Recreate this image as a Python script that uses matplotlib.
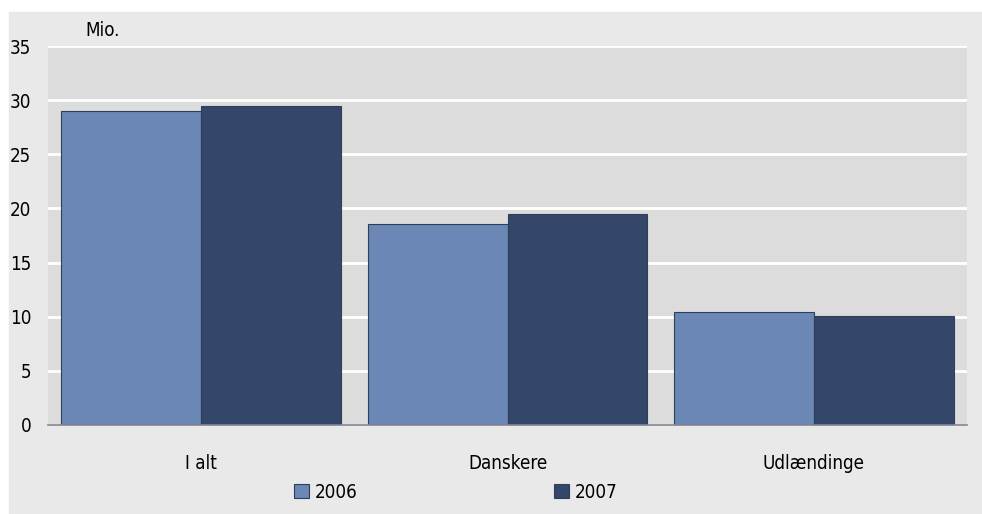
import matplotlib.pyplot as plt
import numpy as np
from matplotlib.patches import Rectangle

categories = ["I alt", "Danskere", "Udlændinge"]
series_names = ["2006", "2007"]
values_2006 = [29.0, 18.6, 10.4]
values_2007 = [29.5, 19.5, 10.1]
y_ticks = [0, 5, 10, 15, 20, 25, 30, 35]

colors = ["#6a87b5", "#344769"]

plt.rcParams["font.family"] = ["DejaVu Sans"]
plt.rcParams["font.stretch"] = "condensed"

W, H = 982, 514
fig = plt.figure(figsize=(W / 100, H / 100), dpi=100, facecolor="white")
fig.patches.append(Rectangle((9 / W, 0), 1 - 9 / W, 1 - 12 / H,
                             transform=fig.transFigure, color="#e9e9e9", zorder=-5))

ax = fig.add_axes([48 / W, (H - 425) / H, (967 - 48) / W, (425 - 46) / H])
ax.set_facecolor("#dcdcdc")

x = np.arange(len(categories))
bw = 0.457
ax.bar(x - bw / 2, values_2006, bw, color=colors[0], edgecolor="#2f3e5c",
       linewidth=0.8, label=series_names[0], zorder=3)
ax.bar(x + bw / 2, values_2007, bw, color=colors[1], edgecolor="#2f3e5c",
       linewidth=0.8, label=series_names[1], zorder=3)

ax.set_xlim(-0.5, len(categories) - 0.5)
ax.set_ylim(0, 35)
ax.set_yticks(y_ticks)
ax.set_xticks(x)
ax.set_xticklabels(categories)
ax.grid(axis="y", color="white", linewidth=2, zorder=1)
ax.set_axisbelow(True)
for s in ["top", "right", "left"]:
    ax.spines[s].set_visible(False)
ax.spines["bottom"].set_color("#7f8590")
ax.spines["bottom"].set_linewidth(1.2)
ax.spines["bottom"].set_zorder(4)
ax.tick_params(axis="both", length=0, labelsize=13.5)
ax.tick_params(axis="y", pad=12)
ax.tick_params(axis="x", pad=21)

fig.text(85 / W, 1 - 31 / H, "Mio.", fontsize=13.5, va="center", ha="left")

leg = fig.legend(loc="center", bbox_to_anchor=(456 / W, 1 - 492 / H), ncol=2,
                 frameon=False, fontsize=13.5, handlelength=0.8, handleheight=0.8,
                 handletextpad=0.3, columnspacing=10.5)

plt.savefig("out.png", dpi=100, facecolor=fig.get_facecolor())
